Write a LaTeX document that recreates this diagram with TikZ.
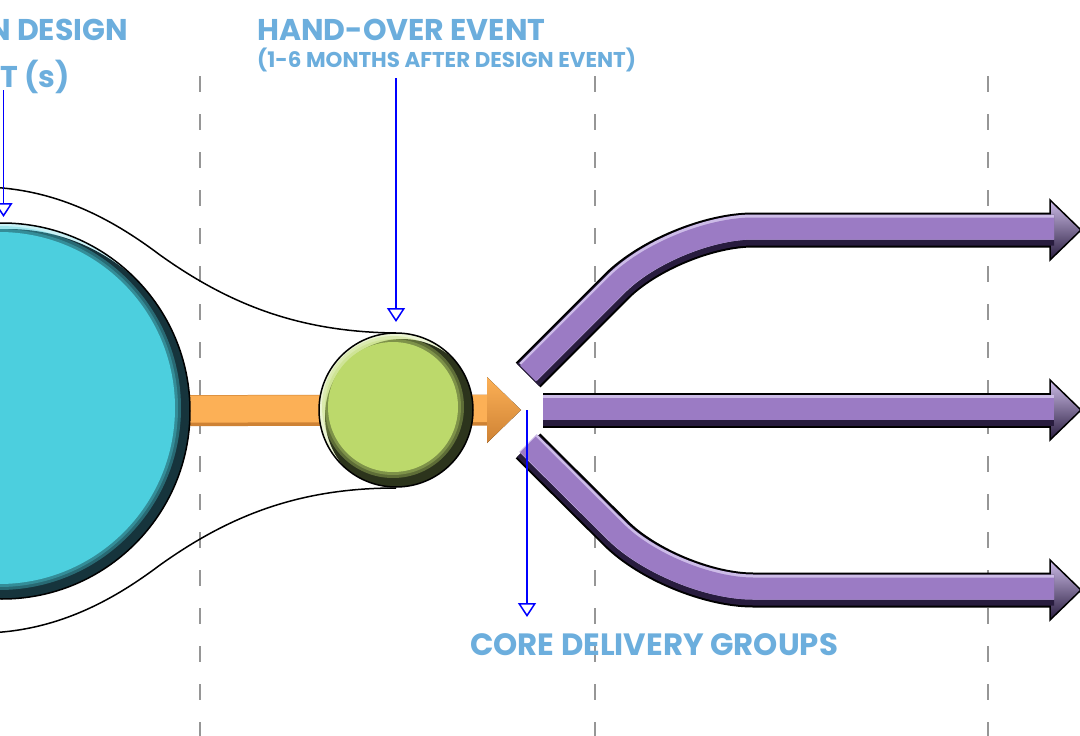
\documentclass[tikz,border=0pt]{standalone}
\usepackage{fontspec}
\setmainfont{Poppins}
\usetikzlibrary{arrows.meta}

\definecolor{labelblue}{RGB}{108,174,221}
\definecolor{cyanfill}{RGB}{76,207,222}
\definecolor{cyanrim}{RGB}{22,52,60}
\definecolor{greenfill}{RGB}{188,217,107}
\definecolor{greenrim}{RGB}{44,52,28}
\definecolor{orangefill}{RGB}{252,176,86}
\definecolor{orangerim}{RGB}{206,130,52}
\definecolor{purplefill}{RGB}{155,123,196}
\definecolor{purplerim}{RGB}{40,28,62}
\definecolor{purplelite}{RGB}{205,188,232}
\definecolor{guidegray}{RGB}{150,150,150}

\tikzset{
  eventtext/.style={text=labelblue, inner sep=0pt,
                    font=\bfseries\fontsize{30}{30}\selectfont},
  guide/.style={draw=guidegray, line width=1.3pt, dash pattern=on 16pt off 22pt},
  envelope/.style={draw=black, line width=1.5pt},
  pointer/.style={draw=blue, line width=1.5pt,
                  -{Triangle[open, width=18pt, length=14pt]}},
}

% ball with a soft bevel: centre, radius, fill colour, rim colour
\newcommand{\bevelball}[4]{%
  \begin{scope}
    \clip (#1) circle [radius=#2];
    \fill[white!70!#3] (#1) circle [radius=#2];
    \fill[#4] ([shift={(6,6)}]#1) circle [radius=#2];
    \foreach \d in {6,3}
      \fill[#3, opacity=0.35] ([shift={(-3,-3)}]#1) circle [radius=#2-12+\d];
    \fill[#3] ([shift={(-3,-3)}]#1) circle [radius=#2-12];
  \end{scope}
  \draw[line width=1.5pt] (#1) circle [radius=#2];
}

% purple flow arrow: shaft path, head height
\newcommand{\flowarrow}[2]{%
  \draw[rounded corners=80pt, line width=35pt, black] #1;
  \filldraw[line width=1.5pt, draw=black, top color=purplelite,
            middle color=purplefill, bottom color=purplerim]
       (1050,#2-30) -- (1081,#2) -- (1050,#2+30) -- cycle;
  \draw[rounded corners=80pt, line width=31pt, purplerim] #1;
  \draw[rounded corners=80pt, line width=25pt, purplelite, shift={(0,-3)}] #1;
  \draw[rounded corners=80pt, line width=22pt, purplefill, shift={(0,-1.5)}] #1;
}

\begin{document}
\begin{tikzpicture}[x=1pt, y=-1pt]
    \clip (0, 0) rectangle (1080, 736);
    \fill[white] (0, 0) rectangle (1080, 736);

    % Time guides
    \foreach \gx in {200, 595, 988}
      \draw[guide] (\gx, 76) -- (\gx, 736);

    % Events
    \coordinate (design) at (2, 411);
    \coordinate (handover) at (396, 410);

    % Envelope round both events
    \draw[envelope] (-20, 187) .. controls (60, 187) and (120, 225) .. (160, 255)
                    .. controls (230, 305) and (300, 332) .. (396, 333);
    \draw[envelope] (-20, 633) .. controls (60, 633) and (120, 595) .. (160, 565)
                    .. controls (230, 515) and (300, 488) .. (396, 488);

    % Orange hand-over arrow
    \coordinate (otip) at (521, 410);
    \draw[line width=31pt, orangerim] (design) -- (490, 410);
    \draw[line width=27pt, orangefill] ([shift={(0,-1.5)}]design) -- (490, 408.5);
    \fill[top color=orangefill, middle color=orangefill, bottom color=orangerim]
         (487, 377) -- (otip) -- (487, 443) -- cycle;

    % Design event
    \bevelball{design}{188}{cyanfill}{cyanrim}

    % Hand-over event
    \bevelball{handover}{77}{greenfill}{greenrim}

    % Core delivery groups
    \flowarrow{(528, 375) -- (673, 230) -- (1054, 230)}{230}
    \flowarrow{(543, 410) -- (1054, 410)}{410}
    \flowarrow{(528, 446) -- (673, 590) -- (1054, 590)}{590}

    % Labels
    \node[eventtext, anchor=base east] (designA) at (128, 41) {N DESIGN};
    \node[eventtext, anchor=base east] (designB) at (70, 87) {NT (s)};
    \node[eventtext, anchor=base west] (handoverA) at (257, 41) {HAND-OVER EVENT};
    \node[eventtext, anchor=base west, font=\bfseries\fontsize{21.4}{21.4}\selectfont]
         (handoverB) at (257, 67) {(1-6 MONTHS AFTER DESIGN EVENT)};
    \node[eventtext, anchor=base west, font=\bfseries\fontsize{30.8}{30.8}\selectfont]
         (core) at (470, 655) {CORE DELIVERY GROUPS};

    % Pointers
    \coordinate (p1) at (3.5, 90);
    \coordinate (p1tip) at (3.5, 217);
    \coordinate (p2) at (396, 78);
    \coordinate (p2tip) at (396, 322);
    \coordinate (p3) at (527, 410);
    \coordinate (p3tip) at (527, 617);
    \draw[pointer] (p1) -- (p1tip);
    \draw[pointer] (p2) -- (p2tip);
    \draw[pointer] (p3) -- (p3tip);
\end{tikzpicture}
\end{document}
